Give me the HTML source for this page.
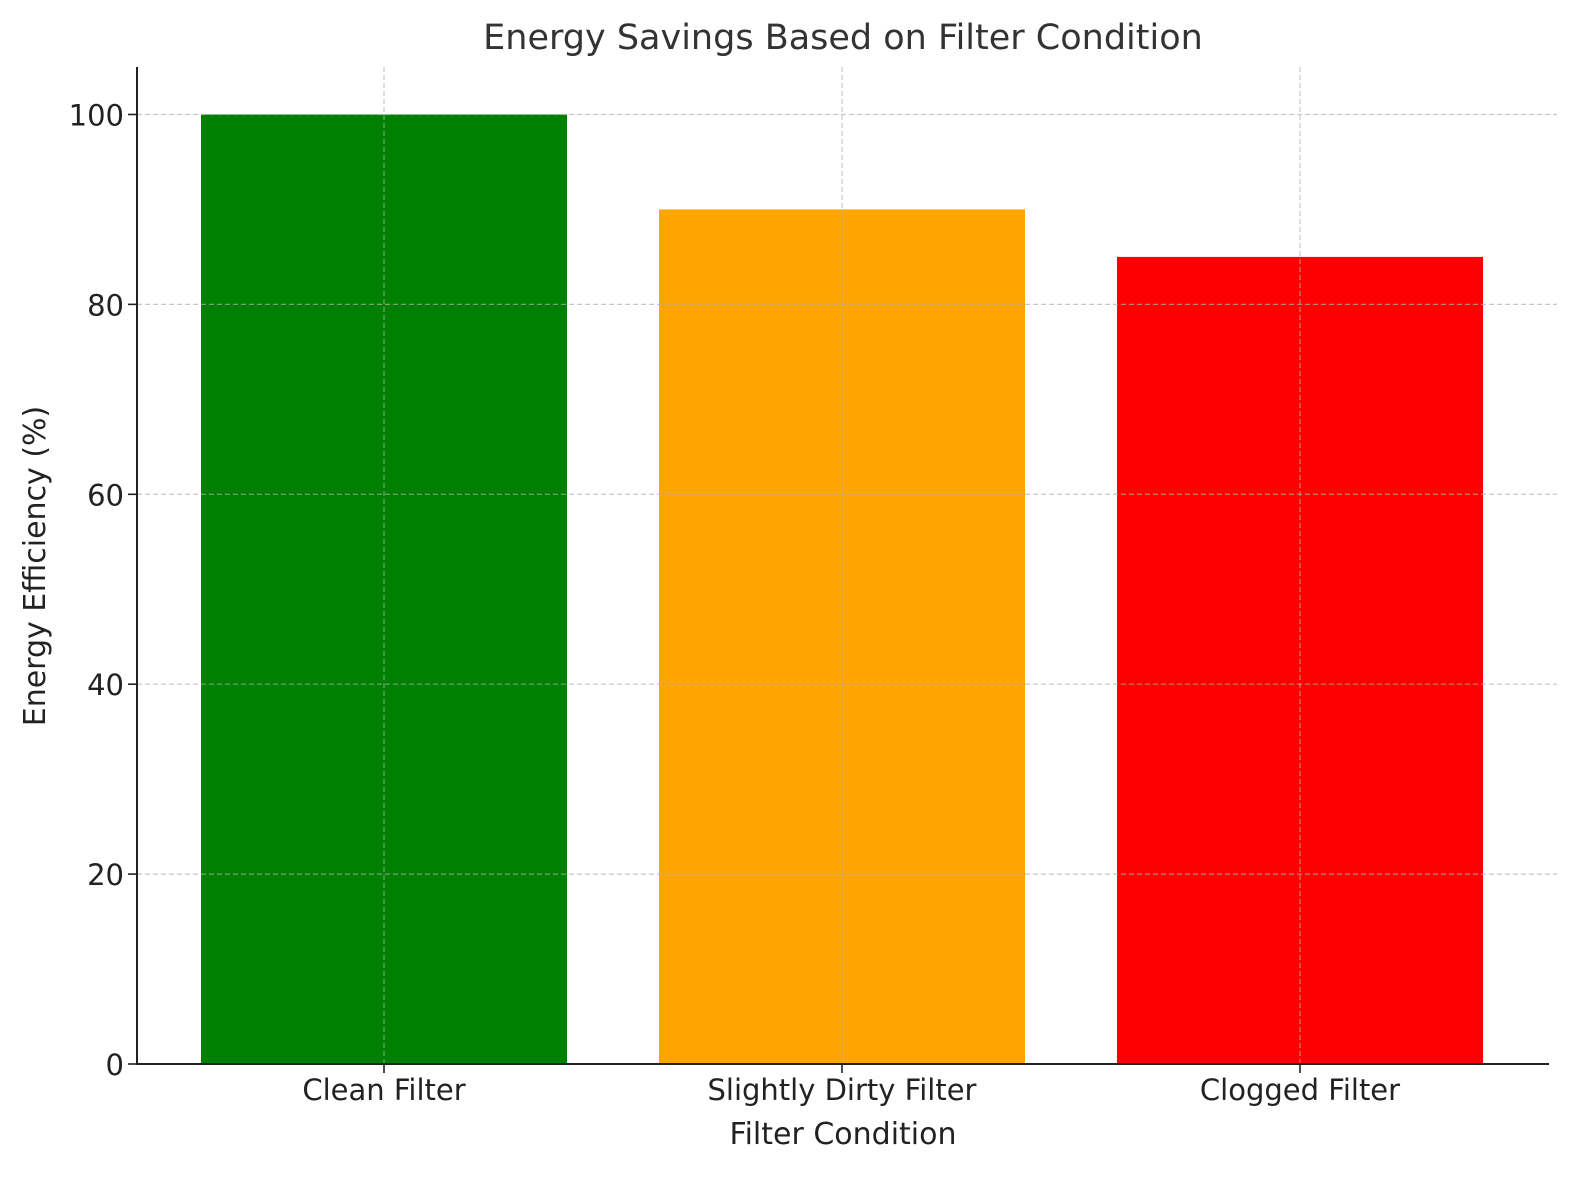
<!DOCTYPE html>
<html><head><meta charset="utf-8"><style>
html,body{margin:0;padding:0;background:#fff;}
svg{display:block;font-family:"DejaVu Sans","Liberation Sans",sans-serif;}
</style></head><body>
<svg id="chart" width="1580" height="1180" xmlns="http://www.w3.org/2000/svg">
<text x="843" y="49" text-anchor="middle" font-size="35" fill="#333">Energy Savings Based on Filter Condition</text>
<text x="843" y="1144" text-anchor="middle" font-size="30" fill="#222">Filter Condition</text>
<text transform="translate(45,566) rotate(-90)" text-anchor="middle" font-size="30" fill="#222">Energy Efficiency (%)</text>
<g id="bars"></g><g id="grid"></g><g id="axes"></g>
</svg>
<script>
const categories = ["Clean Filter", "Slightly Dirty Filter", "Clogged Filter"];
const values = [100, 90, 85];
const colors = ["#008000", "#ffa500", "#ff0000"];
const yTicks = [0, 20, 40, 60, 80, 100];

const NS = "http://www.w3.org/2000/svg";
const L = 137, R = 1549, B = 1064, T = 67;
const yMax = 105;
const y = v => B - (v / yMax) * (B - T);
const step = 458, x0 = 384;
const x = i => x0 + i * step;
const bw = 366;
function mk(tag, attrs, parent) {
  const e = document.createElementNS(NS, tag);
  for (const k in attrs) e.setAttribute(k, attrs[k]);
  parent.appendChild(e);
  return e;
}
const gb = document.getElementById("bars"), gg = document.getElementById("grid"), ga = document.getElementById("axes");
categories.forEach((c, i) => {
  const r = mk("rect", {x: x(i) - bw / 2, y: y(values[i]), width: bw, height: B - y(values[i]), fill: colors[i]}, gb);
  
  
  const gl = mk("line", {x1: x(i), x2: x(i), y1: T, y2: B, stroke: "#b0b0b0", "stroke-width": 1.2, "stroke-dasharray": "5,3", opacity: 0.7}, gg);
  
  
  const tk = mk("line", {x1: x(i), x2: x(i), y1: B, y2: B + 9, stroke: "#222", "stroke-width": 1.6}, ga);
  
  
  const t = mk("text", {x: x(i), y: B + 36, "text-anchor": "middle", "font-size": 29, fill: "#222"}, ga);
  t.textContent = c;
  
  
});
yTicks.forEach(v => {
  if (v > 0) {
    const gl = mk("line", {x1: L, x2: 1557, y1: y(v), y2: y(v), stroke: "#b0b0b0", "stroke-width": 1.2, "stroke-dasharray": "5,3", opacity: 0.7}, gg);
    
    
  }
  const tk = mk("line", {x1: L - 9, x2: L, y1: y(v), y2: y(v), stroke: "#222", "stroke-width": 1.6}, ga);
  
  
  const t = mk("text", {x: L - 13, y: y(v) + 11, "text-anchor": "end", "font-size": 29, fill: "#222"}, ga);
  t.textContent = v;
  
  
});
const ls = mk("line", {x1: L, x2: L, y1: T, y2: B + 1, stroke: "#222", "stroke-width": 2}, ga);


const bs = mk("line", {x1: L - 1, x2: R, y1: B, y2: B, stroke: "#222", "stroke-width": 2}, ga);


</script>
</body></html>
